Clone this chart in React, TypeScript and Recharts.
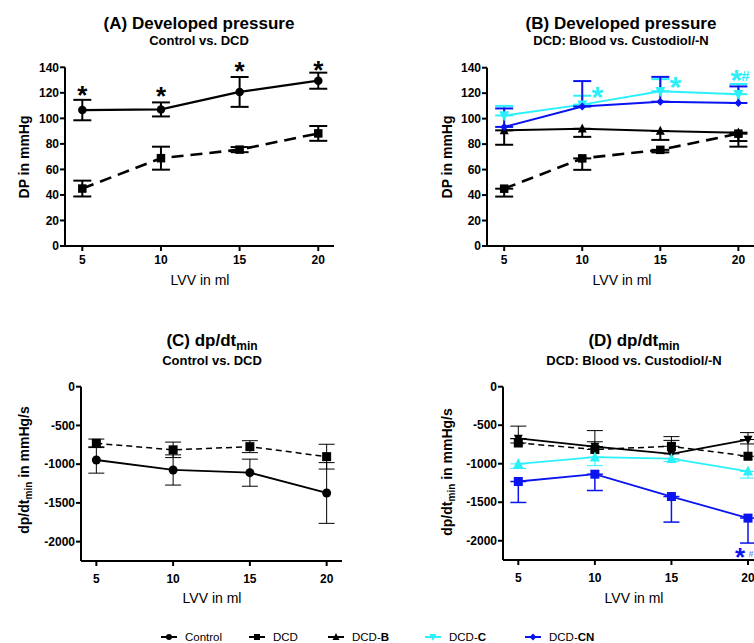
import React from 'react';
import { LineChart, Line, XAxis, YAxis, ErrorBar, ReferenceDot } from 'recharts';

const FONT = '"Liberation Sans", Arial, Helvetica, sans-serif';

// ---------- data ----------
const volumes = [5, 10, 15, 20];

// Developed pressure (mmHg)
const dpControl = [106.5, 107, 120.7, 129.5];
const dpControlErr = [8, 5.5, 11.7, 6.3];
const dpDCD = [45, 68.8, 75.5, 88.2];
const dpDCDErr = [6.2, 9, 2, 5.8];
const dpDCDB = [90.8, 92, 90.3, 89];
const dpDCDBErrDown = [11.3, 6.3, 7, 11];
const dpDCDC = [102.5, 111, 121.5, 119.2];
const dpDCDCErrUp = [7.5, 7, 9.5, 8];
const dpDCDCN = [93.5, 109.5, 113.3, 112.3];
const dpDCDCNErrUp = [14.5, 20, 19.5, 13];

// dp/dt min (mmHg/s)
const dpdtControl = [-946, -1075, -1110, -1372];
const dpdtControlErr = [170, 195, 175, 392];
const dpdtDCD = [-731, -815, -774, -903];
const dpdtDCDErr = [55, 100, 77, 160];
const dpdtDCDB = [-672, -777, -872, -686];
const dpdtDCDBErrUp = [160, 207, 224, 90];
const dpdtDCDC = [-1002, -915, -935, -1100];
const dpdtDCDCErrDown = [60, 110, 35, 86];
const dpdtDCDCN = [-1231, -1136, -1426, -1706];
const dpdtDCDCNErrDown = [272, 212, 332, 324];

const dpTicks = [0, 20, 40, 60, 80, 100, 120, 140];
const dpdtTicks = [0, -500, -1000, -1500, -2000];

// significance marks: [lvv, value, text]
const starsA: [number, number, string][] = [[5, 122.8, '*'], [10, 122, '*'], [15, 141.6, '*'], [20, 143, '*']];
const starsB: [number, number, string][] = [[10, 122.8, '*'], [15, 130.8, '*'], [20, 136, '*']];
const hashB: [number, number, string][] = [[20, 136, '#']];
const starsD: [number, number, string][] = [[20, -2130, '*']];
const hashD: [number, number, string][] = [[20, -2140, '#']];

const legendItems = ['Control', 'DCD', 'DCD-B', 'DCD-C', 'DCD-CN'];

// ---------- colours ----------
const BLACK = '#000000';
const CYAN = '#2BF0FA';
const BLUE = '#0A14F0';
const LIGHTBLUE = '#6E8CF5';

// ---------- helpers ----------
const sym = (e: number) => [e, e];
const down = (e: number) => [e, 0];
const up = (e: number) => [0, e];

const rowsAB = volumes.map((v, i) => ({
  lvv: v,
  control: dpControl[i], controlErr: sym(dpControlErr[i]),
  dcd: dpDCD[i], dcdErr: sym(dpDCDErr[i]), dcdErrDown: down(dpDCDErr[i]),
  dcdb: dpDCDB[i], dcdbErr: down(dpDCDBErrDown[i]),
  dcdc: dpDCDC[i], dcdcErr: up(dpDCDCErrUp[i]),
  dcdcn: dpDCDCN[i], dcdcnErr: up(dpDCDCNErrUp[i]),
}));

const rowsCD = volumes.map((v, i) => ({
  lvv: v,
  control: dpdtControl[i], controlErr: sym(dpdtControlErr[i]),
  dcd: dpdtDCD[i], dcdErr: sym(dpdtDCDErr[i]), dcdErrUp: up(dpdtDCDErr[i]),
  dcdb: dpdtDCDB[i], dcdbErr: up(dpdtDCDBErrUp[i]),
  dcdc: dpdtDCDC[i], dcdcErr: down(dpdtDCDCErrDown[i]),
  dcdcn: dpdtDCDCN[i], dcdcnErr: down(dpdtDCDCNErrDown[i]),
}));

type Shape = 'circle' | 'square' | 'up' | 'down' | 'diamond';

const drawShape = (kind: Shape, cx: number, cy: number, s: number, color: string, key?: string) => {
  switch (kind) {
    case 'circle':
      return <circle key={key} cx={cx} cy={cy} r={s / 2} fill={color} />;
    case 'square':
      return <rect key={key} x={cx - s / 2} y={cy - s / 2} width={s} height={s} fill={color} />;
    case 'up':
      return <polygon key={key} points={`${cx},${cy - s * 0.58} ${cx - s / 2},${cy + s * 0.42} ${cx + s / 2},${cy + s * 0.42}`} fill={color} />;
    case 'down':
      return <polygon key={key} points={`${cx},${cy + s * 0.58} ${cx - s / 2},${cy - s * 0.42} ${cx + s / 2},${cy - s * 0.42}`} fill={color} />;
    default:
      return <polygon key={key} points={`${cx},${cy - s / 2} ${cx + s / 2},${cy} ${cx},${cy + s / 2} ${cx - s / 2},${cy}`} fill={color} />;
  }
};

const dotFn = (kind: Shape, size: number, color: string, name: string) => (p: any) => {
  const key = `${name}-${p.index}`;
  if (p.cx == null || p.cy == null) return <g key={key} />;
  return drawShape(kind, p.cx, p.cy, size, color, key);
};

type SeriesCfg = {
  key: string; err: string; color: string; width: number; dash?: string;
  shape: Shape; size: number; cap: number; errWidth: number;
};

type PanelProps = {
  left: number; top: number; w: number; h: number;
  margin: { top: number; right: number; bottom: number; left: number };
  xDomain: [number, number]; yDomain: [number, number]; yTicks: number[];
  rows: any[]; series: SeriesCfg[];
  marks: { list: [number, number, string][]; color: string; size: number; dx: number }[];
  xTickMargin: number;
};

const tickStyle = { fill: '#000', fontSize: 12, fontWeight: 700, fontFamily: FONT };

const Panel = (pp: PanelProps) => (
  <div style={{ position: 'absolute', left: pp.left, top: pp.top }}>
    <LineChart width={pp.w} height={pp.h} data={pp.rows} margin={pp.margin}>
      <XAxis
        dataKey="lvv" type="number" domain={pp.xDomain} ticks={volumes} allowDataOverflow interval={0}
        axisLine={{ stroke: '#000', strokeWidth: 2 }} tickLine={{ stroke: '#000', strokeWidth: 2 }}
        tickSize={5} tickMargin={pp.xTickMargin} height={30} tick={tickStyle}
      />
      <YAxis
        type="number" domain={pp.yDomain} ticks={pp.yTicks} allowDataOverflow interval={0} width={50}
        axisLine={{ stroke: '#000', strokeWidth: 2 }} tickLine={{ stroke: '#000', strokeWidth: 2 }}
        tickSize={5} tickMargin={1} tick={tickStyle}
      />
      {pp.series.map((s) => (
        <Line
          key={s.key} dataKey={s.key} stroke={s.color} strokeWidth={s.width} strokeDasharray={s.dash}
          isAnimationActive={false} dot={dotFn(s.shape, s.size, s.color, s.key)} activeDot={false}
        >
          <ErrorBar dataKey={s.err} direction="y" width={s.cap} stroke={s.color} strokeWidth={s.errWidth} />
        </Line>
      ))}
      {pp.marks.flatMap((m, mi) =>
        m.list.map(([x, y, t], i) => (
          <ReferenceDot
            key={`m-${mi}-${i}`} x={x} y={y} r={0} ifOverflow="visible"
            shape={(p: any) => (
              <text
                x={(p.cx ?? 0) + m.dx} y={(p.cy ?? 0) + m.size * 0.58} textAnchor="middle"
                fontSize={m.size} fontWeight={700} fontFamily={FONT} fill={m.color}
              >
                {t}
              </text>
            )}
          />
        ))
      )}
    </LineChart>
  </div>
);

const seriesA: SeriesCfg[] = [
  { key: 'control', err: 'controlErr', color: BLACK, width: 2.2, shape: 'circle', size: 8.5, cap: 9, errWidth: 2 },
  { key: 'dcd', err: 'dcdErr', color: BLACK, width: 2.6, dash: '12 7', shape: 'square', size: 8.5, cap: 9, errWidth: 2 },
];

const seriesB: SeriesCfg[] = [
  { key: 'dcd', err: 'dcdErrDown', color: BLACK, width: 2.6, dash: '12 7', shape: 'square', size: 8.5, cap: 9, errWidth: 2 },
  { key: 'dcdb', err: 'dcdbErr', color: BLACK, width: 2, shape: 'up', size: 9, cap: 9, errWidth: 2 },
  { key: 'dcdc', err: 'dcdcErr', color: CYAN, width: 2, shape: 'down', size: 10, cap: 9, errWidth: 2 },
  { key: 'dcdcn', err: 'dcdcnErr', color: BLUE, width: 2, shape: 'diamond', size: 8, cap: 9, errWidth: 2 },
];

const seriesC: SeriesCfg[] = [
  { key: 'dcd', err: 'dcdErr', color: BLACK, width: 1.5, dash: '6 4', shape: 'square', size: 9, cap: 8, errWidth: 1 },
  { key: 'control', err: 'controlErr', color: BLACK, width: 1.8, shape: 'circle', size: 9, cap: 8, errWidth: 1 },
];

const seriesD: SeriesCfg[] = [
  { key: 'dcd', err: 'dcdErrUp', color: BLACK, width: 1.5, dash: '6 4', shape: 'square', size: 9, cap: 8, errWidth: 1 },
  { key: 'dcdb', err: 'dcdbErr', color: BLACK, width: 1.8, shape: 'down', size: 9, cap: 8, errWidth: 1 },
  { key: 'dcdc', err: 'dcdcErr', color: CYAN, width: 1.8, shape: 'up', size: 10, cap: 8, errWidth: 1 },
  { key: 'dcdcn', err: 'dcdcnErr', color: BLUE, width: 1.8, shape: 'square', size: 9, cap: 8, errWidth: 1.5 },
];

const Title = ({ x, y, gap, main, sub, subtitle }: { x: number; y: number; gap: number; main: string; sub?: string; subtitle: string }) => (
  <g fontFamily={FONT} fontWeight={700} fill="#000" textAnchor="middle">
    <text x={x} y={y} fontSize={17}>
      {main}
      {sub ? <tspan fontSize={12} dy={4}>{sub}</tspan> : null}
    </text>
    <text x={x} y={y + gap} fontSize={13}>{subtitle}</text>
  </g>
);

const YLabel = ({ x, y, main, sub, rest }: { x: number; y: number; main: string; sub?: string; rest?: string }) => (
  <text transform={`translate(${x},${y}) rotate(-90)`} textAnchor="middle" fontFamily={FONT} fontWeight={700} fontSize={14} fill="#000">
    {main}
    {sub ? <tspan fontSize={10} dy={3}>{sub}</tspan> : null}
    {rest ? <tspan dy={sub ? -3 : 0}>{rest}</tspan> : null}
  </text>
);

const XLabel = ({ x, y }: { x: number; y: number }) => (
  <text x={x} y={y} textAnchor="middle" fontFamily={FONT} fontSize={14} fill="#000">LVV in ml</text>
);

const legendShapes: { shape: Shape; color: string; size: number }[] = [
  { shape: 'circle', color: BLACK, size: 6 },
  { shape: 'square', color: BLACK, size: 6 },
  { shape: 'up', color: BLACK, size: 7 },
  { shape: 'down', color: CYAN, size: 7 },
  { shape: 'diamond', color: BLUE, size: 7 },
];
const legendX = [169, 257, 336, 433, 533];

export default function App() {
  return (
    <div style={{ position: 'absolute', left: 0, top: 0, width: 754, height: 643, overflow: 'hidden', background: '#fff' }}>
      <Panel
        left={0} top={0} w={377} h={300}
        margin={{ top: 67.3, right: 43, bottom: 24, left: 15 }}
        xDomain={[3.9, 21]} yDomain={[0, 140]} yTicks={dpTicks} rows={rowsAB} series={seriesA}
        marks={[{ list: starsA, color: BLACK, size: 26, dx: 0 }]} xTickMargin={4}
      />
      <Panel
        left={377} top={0} w={377} h={300}
        margin={{ top: 67.7, right: 0, bottom: 24, left: 60 }}
        xDomain={[3.9, 21]} yDomain={[0, 140]} yTicks={dpTicks} rows={rowsAB} series={seriesB}
        marks={[
          { list: starsB.slice(0, 2), color: CYAN, size: 30, dx: 15 },
          { list: starsB.slice(2), color: CYAN, size: 30, dx: -2 },
          { list: hashB, color: CYAN, size: 15, dx: 7 },
        ]}
        xTickMargin={4}
      />
      <Panel
        left={0} top={300} w={377} h={300}
        margin={{ top: 86.7, right: 35, bottom: 9, left: 31 }}
        xDomain={[4, 21]} yDomain={[-2250, 0]} yTicks={dpdtTicks} rows={rowsCD} series={seriesC}
        marks={[]} xTickMargin={8}
      />
      <Panel
        left={377} top={300} w={400} h={300}
        margin={{ top: 86.7, right: 13.7, bottom: 10, left: 76 }}
        xDomain={[4, 21]} yDomain={[-2250, 0]} yTicks={dpdtTicks} rows={rowsCD} series={seriesD}
        marks={[
          { list: starsD, color: BLUE, size: 26, dx: -8 },
          { list: hashD, color: LIGHTBLUE, size: 9, dx: 3 },
        ]}
        xTickMargin={8}
      />
      <svg width={754} height={643} style={{ position: 'absolute', left: 0, top: 0, pointerEvents: 'none' }}>
        <Title x={199} y={29} gap={16} main="(A) Developed pressure" subtitle="Control vs. DCD" />
        <Title x={621} y={29} gap={16} main="(B) Developed pressure" subtitle="DCD: Blood vs. Custodiol/-N" />
        <Title x={212} y={346} gap={19} main="(C) dp/dt" sub="min" subtitle="Control vs. DCD" />
        <Title x={634} y={346} gap={19} main="(D) dp/dt" sub="min" subtitle="DCD: Blood vs. Custodiol/-N" />

        <YLabel x={28.5} y={157} main="DP in mmHg" />
        <YLabel x={451.5} y={157} main="DP in mmHg" />
        <YLabel x={29} y={470} main="dp/dt" sub="min" rest=" in mmHg/s" />
        <YLabel x={452} y={472} main="dp/dt" sub="min" rest=" in mmHg/s" />

        <XLabel x={200} y={285} />
        <XLabel x={622} y={285} />
        <XLabel x={212} y={603} />
        <XLabel x={634} y={603} />

        {legendItems.map((name, i) => {
          const cx = legendX[i];
          const ls = legendShapes[i];
          const dash = name.indexOf('-');
          return (
            <g key={name}>
              <line x1={cx - 8} x2={cx + 8} y1={637} y2={637} stroke={ls.color} strokeWidth={2} />
              {drawShape(ls.shape, cx, 637, ls.size, ls.color)}
              <text x={cx + 16} y={641} fontFamily={FONT} fontSize={11.5} fill="#000">
                {dash < 0 ? name : (
                  <>
                    {name.slice(0, dash + 1)}
                    <tspan fontWeight={700}>{name.slice(dash + 1)}</tspan>
                  </>
                )}
              </text>
            </g>
          );
        })}
      </svg>
    </div>
  );
}
